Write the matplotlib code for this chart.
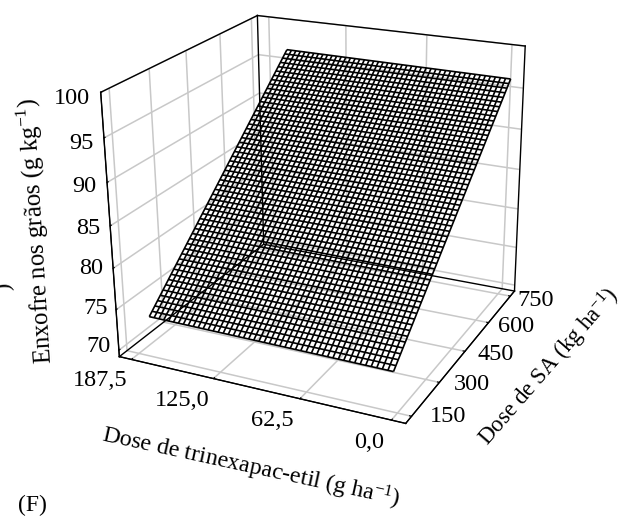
import numpy as np
import matplotlib
matplotlib.use("Agg")
import matplotlib.pyplot as plt

plt.rcParams["font.family"] = ["Liberation Serif", "DejaVu Sans"]
plt.rcParams["mathtext.fontset"] = "custom"
plt.rcParams["mathtext.rm"] = "Liberation Serif"
plt.rcParams["mathtext.it"] = "Liberation Serif:italic"

XLIM = (197.0, -9.4)
YLIM = (120.0, 780.0)
ZLIM = (69.2, 100.0)
X_TICKS = [187.5, 125.0, 62.5, 0.0]
X_LABELS = ["187,5", "125,0", "62,5", "0,0"]
Y_TICKS = [150, 300, 450, 600, 750]
Y_LABELS = ["150", "300", "450", "600", "750"]
Z_TICKS = [70, 75, 80, 85, 90, 95, 100]
Z_LABELS = ["70", "75", "80", "85", "90", "95", "100"]

# fitted plane, corners of the mesh
SURF_X = [0.0, 173.0]
SURF_Y = [128.0, 780.0]
SURF_Z = [[74.6, 74.8],   # low SA
          [95.9, 96.1]]   # high SA
N_X, N_Y = 48, 57

W, H = 626, 517
fig = plt.figure(figsize=(W / 100, H / 100), dpi=100)
L = 496.9
ax = fig.add_axes([69.2 / W, (H - 454.9) / H, L / W, L / H], projection="3d")
ax.view_init(elev=21.78, azim=-64.15, roll=0.59)
ax.set_proj_type("persp", focal_length=0.5341)
ax.set_box_aspect((1.1207, 1.1161, 1.0))

u = np.linspace(0, 1, N_X)
v = np.linspace(0, 1, N_Y)
U, V = np.meshgrid(u, v)
XX = SURF_X[0] + U * (SURF_X[1] - SURF_X[0])
YY = SURF_Y[0] + V * (SURF_Y[1] - SURF_Y[0])
ZZ = (1 - V) * ((1 - U) * SURF_Z[0][0] + U * SURF_Z[0][1]) + V * ((1 - U) * SURF_Z[1][0] + U * SURF_Z[1][1])
ax.plot_wireframe(XX, YY, ZZ, rcount=N_Y, ccount=N_X, color="black", linewidth=1.2)

# box outline: the two walls and the floor, the front edges stay open
x0, x1 = XLIM
y0, y1 = YLIM
z0, z1 = ZLIM
edges = [((x0, x1), (y0, y0), (z0, z0)), ((x1, x1), (y0, y1), (z0, z0)), ((x0, x0), (y0, y0), (z0, z1)),
         ((x0, x0), (y0, y1), (z1, z1)), ((x0, x1), (y1, y1), (z1, z1)), ((x1, x1), (y1, y1), (z0, z1)),
         ((x0, x0), (y1, y1), (z0, z1)), ((x0, x0), (y0, y1), (z0, z0)), ((x0, x1), (y1, y1), (z0, z0))]
for ex, ey, ez in edges:
    ax.plot(ex, ey, ez, color="black", linewidth=1.0, clip_on=False)

ax.set_xlim(*XLIM); ax.set_ylim(*YLIM); ax.set_zlim(*ZLIM)

for axis in (ax.xaxis, ax.yaxis, ax.zaxis):
    axis.set_pane_color((1, 1, 1, 1))
    axis._axinfo["grid"].update(color="#c8c8c8", linewidth=1.1)
    axis._axinfo["tick"].update(inward_factor=0.0, outward_factor=0.08)
    axis.line.set_color("black")
ax.set_xticks(X_TICKS); ax.set_xticklabels([""] * len(X_TICKS))
ax.set_yticks(Y_TICKS); ax.set_yticklabels([""] * len(Y_TICKS))
ax.set_zticks(Z_TICKS); ax.set_zticklabels([""] * len(Z_TICKS))
ax.zaxis.set_ticks_position("lower")


def put(px_x, px_y, s, size=17, **kw):
    fig.text(px_x / W, 1 - px_y / H, s, ha="center", va="center", fontsize=size, rotation_mode="anchor", **kw)


# tick labels get smaller towards the back of the box in the original, keep one size
x_pos = [(100, 381), (182, 401), (272, 421), (369, 442)]
y_pos = [(448, 416), (472, 385), (496, 355), (516, 326), (536, 301)]
z_pos = [(98, 347), (96, 308), (91, 269), (88, 228), (84, 187), (81, 143), (72, 99)]
for labels, pos in ((X_LABELS, x_pos), (Y_LABELS, y_pos), (Z_LABELS, z_pos)):
    for lab, (a, b) in zip(labels, pos):
        put(a, b, lab, size=17.5)

put(251, 468, r"Dose de trinexapac-etil (g ha$^{\mathit{-1}}$)", size=17.3, rotation=-12.3)
put(549, 367, r"Dose de SA (kg ha$^{\mathit{-1}}$)", size=16.6, rotation=49)
put(36, 231, r"Enxofre nos grãos (g kg$^{-1}$)", size=17.8, rotation=93.5)
put(3, 287, ")", rotation=93.5)
put(32, 505, "(F)")

fig.savefig("out.png", dpi=100)
